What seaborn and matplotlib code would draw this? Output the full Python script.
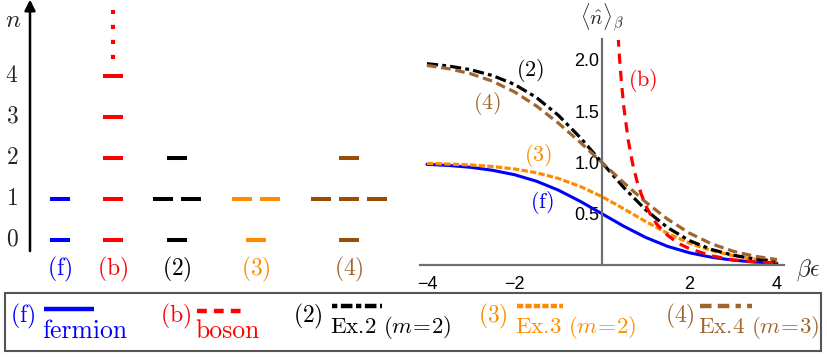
import numpy as np
import pandas as pd
import matplotlib
matplotlib.use('Agg')
import matplotlib.pyplot as plt
from matplotlib.patches import Rectangle
from matplotlib.ticker import MultipleLocator
import seaborn as sns

# level scheme: degeneracy of the levels n = 0, 1, 2, ...
level_labels = ['(f)', '(b)', '(2)', '(3)', '(4)']
degeneracy = [[1, 1], [1, 1, 1, 1, 1], [1, 2, 1], [1, 2], [1, 3, 1]]
n_ticks = [0, 1, 2, 3, 4]

# <n>_beta against beta*eps
be = [-4.0, -3.5, -3.0, -2.5, -2.0, -1.5, -1.0, -0.5, 0.0,
      0.5, 1.0, 1.5, 2.0, 2.5, 3.0, 3.5, 4.0]
n_fermion = [0.982, 0.971, 0.953, 0.924, 0.881, 0.818, 0.731, 0.622, 0.500,
             0.378, 0.269, 0.182, 0.119, 0.076, 0.047, 0.029, 0.018]
n_ex2 = [1.964, 1.941, 1.905, 1.848, 1.762, 1.635, 1.462, 1.245, 1.000,
         0.755, 0.538, 0.365, 0.238, 0.152, 0.095, 0.059, 0.036]
n_ex3 = [0.991, 0.985, 0.976, 0.961, 0.937, 0.900, 0.845, 0.767, 0.667,
         0.548, 0.424, 0.309, 0.213, 0.141, 0.091, 0.057, 0.035]
n_ex4 = [1.947, 1.915, 1.866, 1.793, 1.689, 1.552, 1.386, 1.198, 1.000,
         0.802, 0.614, 0.447, 0.311, 0.207, 0.134, 0.085, 0.053]
be_boson = [0.37, 0.4, 0.45, 0.5, 0.6, 0.7, 0.8, 0.9, 1.0, 1.1, 1.25,
            1.5, 1.75, 2.0, 2.5, 3.0, 3.5, 4.0]
n_boson = [2.23, 2.03, 1.76, 1.54, 1.22, 0.99, 0.82, 0.69, 0.58, 0.50, 0.40,
           0.29, 0.21, 0.16, 0.09, 0.05, 0.03, 0.02]

xticks = [-4, -2, 2, 4]
xtick_labels = ['\u22124', '\u22122', '2', '4']
yticks = [0.5, 1.0, 1.5, 2.0]
ytick_labels = ['0.5', '1.0', '1.5', '2.0']

legend_names = ['fermion', 'boson',
                r'Ex.2 $(m\!=\!2)$',
                r'Ex.3 $(m\!=\!2)$',
                r'Ex.4 $(m\!=\!3)$']

sns.set_style('white')
plt.rcParams['font.family'] = ['Liberation Sans', 'DejaVu Sans']
plt.rcParams['mathtext.fontset'] = 'cm'

blue = '#0000ff'
red = '#ff0000'
black = '#000000'
orange = '#ff8c00'
brown = '#a0652d'
brown_lvl = '#9a4e04'
colors = [blue, red, black, orange, brown]
lvl_colors = [blue, red, black, orange, brown_lvl]

styles = {
    'f': dict(ls='-', lw=2.2),
    'b': dict(ls=(0, (3.2, 2.2)), lw=2.3),
    '2': dict(ls=(0, (3.5, 1.3, 1.2, 1.3)), lw=2.3),
    '3': dict(ls=(0, (2.0, 0.7)), lw=2.3),
    '4': dict(ls=(0, (3.0, 1.5)), lw=2.3),
}
# the legend samples use a shorter pattern
legend_dash = {
    'f': '-',
    'b': (0, (2.2, 1.6)),
    '2': (0, (1.2, 0.8, 2.6, 0.8)),
    '3': (0, (1.4, 0.5)),
    '4': (0, (2.6, 1.4, 2.6, 1.4, 1.2, 1.4)),
}

fig = plt.figure(figsize=(8.27, 3.57), dpi=100)

# ---- left: level diagram (x in pixels, y in n units)
ax_l = fig.add_axes([0, 67 / 357, 400 / 827, 290 / 357])
ax_l.set_xlim(0, 400)
ax_l.set_ylim(-1.22, 5.85)
ax_l.axis('off')

col_x = [60, 113, 177, 256, 349]
for lab, degs, cx, c, tc in zip(level_labels, degeneracy, col_x, lvl_colors, colors):
    for n, g in enumerate(degs):
        offs = (np.arange(g) - (g - 1) / 2) * 28
        ax_l.hlines([n] * g, cx + offs - 10, cx + offs + 10, color=c, lw=2.9)
    ax_l.text(cx, -0.73, r'$\mathrm{' + lab + '}$', color=tc, fontsize=17,
              ha='center', va='center')

# dots above the boson ladder
ax_l.plot([113, 113], [4.42, 5.6], color=red, lw=3, ls=(0, (1.0, 2.6)),
          solid_capstyle='butt')

ax_l.annotate('', xy=(30, 5.86), xytext=(30, -0.27),
              arrowprops=dict(arrowstyle='-|>', lw=1.8, color='k',
                              mutation_scale=16, shrinkA=0, shrinkB=0))
for n in n_ticks:
    ax_l.text(12, n, '$%d$' % n, fontsize=17, ha='center', va='center')
ax_l.text(13, 5.37, '$n$', fontsize=18, ha='center', va='center')

# ---- right: mean occupation
ax = fig.add_axes([420.4 / 827, 92 / 357, 363.1 / 827, 225.5 / 357])
series = [('f', be, n_fermion, blue), ('3', be, n_ex3, orange),
          ('2', be, n_ex2, black), ('4', be, n_ex4, brown),
          ('b', be_boson, n_boson, red)]
for key, xs, ys, c in series:
    df = pd.DataFrame({'x': xs, 'y': ys})
    sns.lineplot(data=df, x='x', y='y', ax=ax, color=c, **styles[key])

ax.set_xlim(-4.15, 4.15)
ax.set_ylim(0, 2.2)
ax.set_xlabel('')
ax.set_ylabel('')
for s in ['top', 'right']:
    ax.spines[s].set_visible(False)
ax.spines['left'].set_position(('data', 0))
for s in ['left', 'bottom']:
    ax.spines[s].set_color('#707070')
    ax.spines[s].set_linewidth(1.6)
ax.set_xticks(xticks, xtick_labels)
ax.set_yticks(yticks, ytick_labels)
ax.xaxis.set_minor_locator(MultipleLocator(0.5))
ax.yaxis.set_minor_locator(MultipleLocator(0.1))
ax.tick_params(which='major', direction='in', length=4, width=1,
               color='#707070', labelsize=13, labelcolor='k')
ax.tick_params(which='minor', direction='in', length=2, width=0.8, color='#707070')
ax.tick_params(axis='x', pad=8)
ax.tick_params(axis='y', pad=2)
ax.set_facecolor('none')
ax.grid(False)

ax.text(0, 2.41, r'$\langle\hat{n}\rangle_\beta$', fontsize=15,
        ha='center', va='center', clip_on=False)
ax.text(4.71, -0.05, r'$\beta\epsilon$', fontsize=17, ha='center', va='center',
        clip_on=False)
curve_tags = [('(2)', -1.65, 1.90, black), ('(4)', -2.63, 1.58, brown),
              ('(b)', 0.94, 1.80, red), ('(3)', -1.46, 1.07, orange),
              ('(f)', -1.37, 0.61, blue)]
for t, x, y, c in curve_tags:
    ax.text(x, y, r'$\mathrm{' + t + '}$', color=c, fontsize=16,
            ha='center', va='center')

# ---- bottom: legend box (pixel coordinates)
ax_g = fig.add_axes([0, 0, 1, 1])
ax_g.set_xlim(0, 827)
ax_g.set_ylim(357, 0)
ax_g.axis('off')
ax_g.add_patch(Rectangle((5, 293), 816, 58, fill=False, ec='#555555', lw=1.5))

leg_label_x = [10, 160, 293, 478, 665]
leg_line_x = [(44, 94), (197, 246), (332, 382), (517, 563), (700, 752)]
leg_line_y = [309, 311, 306, 306, 306]
leg_keys = ['f', 'b', '2', '3', '4']
for i in range(5):
    c = colors[i]
    ax_g.text(leg_label_x[i], 316, r'$\mathrm{' + level_labels[i] + '}$',
              color=c, fontsize=17, ha='left', va='center')
    x0, x1 = leg_line_x[i]
    ax_g.plot([x0, x1], [leg_line_y[i]] * 2, color=c, lw=3.2,
              ls=legend_dash[leg_keys[i]], solid_capstyle='butt',
              dash_capstyle='butt')
    if i < 2:
        ax_g.text(x0 - 2, 338, legend_names[i], color=c, family='cmr10',
                  fontsize=18.5, ha='left', va='baseline')
    else:
        ax_g.text(x0 - 2, 333, legend_names[i], color=c, family='cmr10',
                  fontsize=16.5, ha='left', va='baseline')

fig.savefig('out.png', dpi=100)
